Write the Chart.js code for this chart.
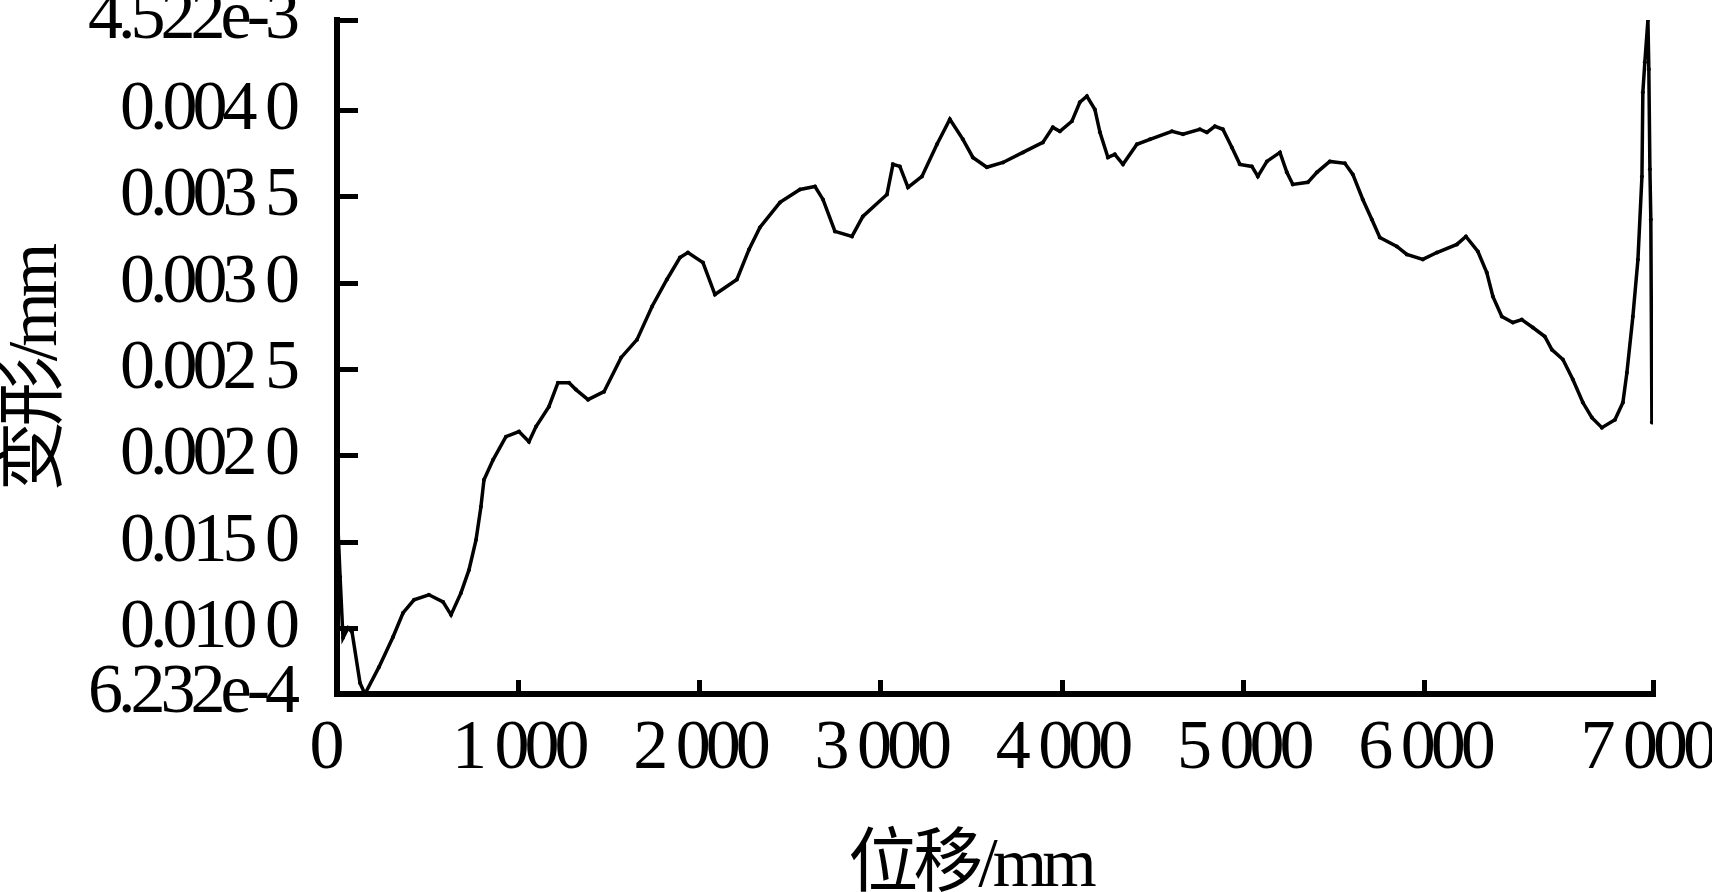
<!DOCTYPE html>
<html>
<head>
<meta charset="utf-8">
<title>变形-位移</title>
<script src="https://cdn.jsdelivr.net/npm/chart.js@4.4.1/dist/chart.umd.min.js"></script>
<style>
  html, body { margin: 0; padding: 0; background: #fff; }
  #chart { display: block; }
</style>
</head>
<body>
<canvas id="chart" width="1712" height="892"></canvas>
<script>
// --- Data ---
const positions = [
  0, 17, 33, 61, 83, 127, 154, 232, 309, 364,
  425, 507, 585, 629, 684, 728, 767, 794, 811, 861,
  932, 1004, 1059, 1098, 1169, 1219, 1280, 1318, 1385, 1473,
  1567, 1655, 1738, 1820, 1892, 1936, 2019, 2085, 2206, 2273,
  2333, 2444, 2554, 2637, 2681, 2747, 2841, 2901, 3034, 3067,
  3105, 3150, 3227, 3310, 3381, 3453, 3508, 3585, 3674, 3784,
  3894, 3949, 3988, 4054, 4098, 4137, 4181, 4209, 4253, 4291,
  4336, 4413, 4485, 4606, 4667, 4760, 4799, 4843, 4887, 4937,
  4981, 5047, 5080, 5130, 5202, 5240, 5273, 5356, 5406, 5477,
  5560, 5604, 5659, 5709, 5753, 5847, 5902, 5990, 6068, 6178,
  6228, 6294, 6343, 6377, 6426, 6487, 6536, 6597, 6663, 6702,
  6763, 6818, 6873, 6923, 6978, 7050, 7094, 7116, 7149, 7177,
  7199, 7204, 7215, 7232, 7237, 7243, 7248, 7254
];

const deformation = [
  0.001718, 0.001301, 0.000948, 0.001005, 0.000982, 0.000687, 0.0006232, 0.000780, 0.000953, 0.001092,
  0.001168, 0.001197, 0.001156, 0.001081, 0.001208, 0.001341, 0.001515, 0.001706, 0.001863, 0.001978,
  0.002112, 0.002141, 0.002083, 0.002170, 0.002285, 0.002424, 0.002424, 0.002384, 0.002326, 0.002372,
  0.002569, 0.002673, 0.002865, 0.003021, 0.003148, 0.003177, 0.003119, 0.002934, 0.003021, 0.003195,
  0.003322, 0.003467, 0.003542, 0.003559, 0.003484, 0.003299, 0.003270, 0.003386, 0.003513, 0.003687,
  0.003675, 0.003554, 0.003617, 0.003803, 0.003948, 0.003832, 0.003727, 0.003670, 0.003698, 0.003756,
  0.003814, 0.003901, 0.003878, 0.003936, 0.004046, 0.004081, 0.004005, 0.003872, 0.003727, 0.003745,
  0.003687, 0.003803, 0.003832, 0.003878, 0.003861, 0.003890, 0.003872, 0.003907, 0.003890, 0.003785,
  0.003687, 0.003675, 0.003617, 0.003704, 0.003756, 0.003641, 0.003571, 0.003583, 0.003641, 0.003704,
  0.003693, 0.003629, 0.003484, 0.003368, 0.003264, 0.003212, 0.003166, 0.003137, 0.003177, 0.003224,
  0.003270, 0.003183, 0.003061, 0.002922, 0.002807, 0.002772, 0.002789, 0.002743, 0.002691, 0.002615,
  0.002558, 0.002442, 0.002309, 0.002222, 0.002164, 0.002210, 0.002309, 0.002482, 0.002807, 0.003137,
  0.003617, 0.004104, 0.004278, 0.004522, 0.004237, 0.003658, 0.003368, 0.002193
];

// --- Axes ---
const xMax = 7260;
const xTickValues = [0, 1000, 2000, 3000, 4000, 5000, 6000, 7260];
const xTickLabels = ['0  ', '1 000', '2 000', '3 000', '4 000', '5 000', '6 000', '7 000 '];

const yMin = 0.0006232;
const yMax = 0.004522;
const yTickValues = [0.0006232, 0.0010, 0.0015, 0.0020, 0.0025, 0.0030, 0.0035, 0.0040, 0.004522];
const yTickLabels = ['6.232e-4', '0.010 0', '0.015 0', '0.002 0', '0.002 5', '0.003 0', '0.003 5', '0.004 0', '4.522e-3'];

const xTitle = '位移/mm    ';
const yTitle = '变形/mm  ';

const FONT = "'Liberation Serif', 'Times New Roman', 'Noto Sans CJK SC', serif";

// the original type is tall and tightly set
const tightText = {
  id: 'tightText',
  beforeLayout(chart) { chart.ctx.letterSpacing = '-5px'; },
  beforeDraw(chart) { chart.ctx.letterSpacing = '-5px'; }
};

const points = positions.map((x, i) => ({ x: x, y: deformation[i] }));

const axisLine = { display: true, width: 6, color: '#000' };

new Chart(document.getElementById('chart').getContext('2d'), {
  type: 'scatter',
  data: {
    datasets: [{
      data: points,
      showLine: true,
      borderColor: '#000',
      borderWidth: 3.5,
      pointRadius: 2,
      pointBackgroundColor: '#000',
      pointBorderWidth: 0,
      tension: 0
    }]
  },
  options: {
    responsive: false,
    animation: false,
    events: [],
    layout: { autoPadding: false, padding: { left: 0, top: 20, right: 59, bottom: 0 } },
    plugins: { legend: { display: false }, tooltip: { enabled: false } },
    scales: {
      x: {
        type: 'linear',
        min: 0,
        max: xMax,
        border: axisLine,
        grid: { drawOnChartArea: false, tickLength: -14, lineWidth: 5, color: '#000' },
        afterBuildTicks: (scale) => { scale.ticks = xTickValues.map(v => ({ value: v })); },
        ticks: {
          autoSkip: false,
          maxRotation: 0,
          minRotation: 0,
          padding: 28,
          color: '#000',
          font: { family: FONT, size: 70 },
          callback: (value, index) => xTickLabels[index]
        },
        title: {
          display: true,
          text: xTitle,
          color: '#000',
          font: { family: FONT, size: 70, lineHeight: 0.7 },
          padding: 0
        },
        afterFit: (scale) => {
          scale.height = 198;
          scale.paddingLeft = 0;
          scale.paddingRight = 0;
        }
      },
      y: {
        type: 'linear',
        min: yMin,
        max: yMax,
        border: axisLine,
        grid: { drawOnChartArea: false, tickLength: -21, lineWidth: 5, color: '#000' },
        afterBuildTicks: (scale) => { scale.ticks = yTickValues.map(v => ({ value: v })); },
        ticks: {
          autoSkip: false,
          padding: 63,
          color: '#000',
          font: { family: FONT, size: 70 },
          callback: (value, index) => yTickLabels[index]
        },
        title: {
          display: true,
          text: yTitle,
          color: '#000',
          font: { family: FONT, size: 70, lineHeight: 0.7 },
          padding: { top: 13, bottom: 0 }
        },
        afterFit: (scale) => {
          scale.width = 337;
          scale.paddingTop = 0;
          scale.paddingBottom = 0;
        }
      }
    }
  },
  plugins: [tightText]
});
</script>
</body>
</html>
